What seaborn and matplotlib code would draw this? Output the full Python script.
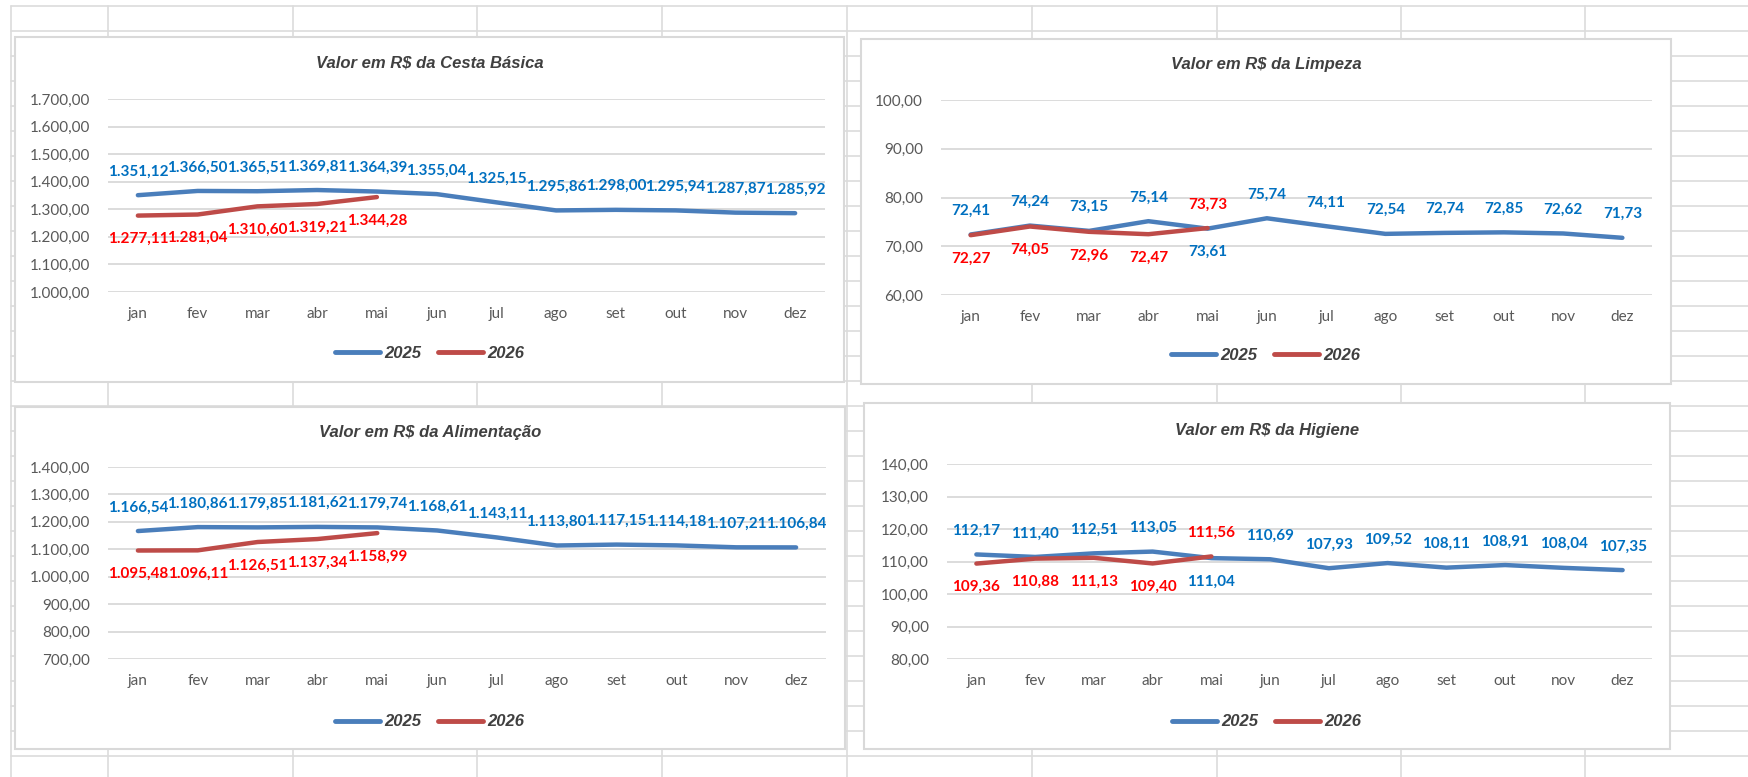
import matplotlib
matplotlib.use("Agg")
import matplotlib.pyplot as plt
from matplotlib.patches import Rectangle
import numpy as np
import pandas as pd
import seaborn as sns

# dados
meses = ["jan", "fev", "mar", "abr", "mai", "jun", "jul", "ago", "set", "out", "nov", "dez"]

cesta_2025 = [1351.12, 1366.50, 1365.51, 1369.81, 1364.39, 1355.04, 1325.15, 1295.86, 1298.00, 1295.94, 1287.87, 1285.92]
cesta_2026 = [1277.11, 1281.04, 1310.60, 1319.21, 1344.28]

limpeza_2025 = [72.41, 74.24, 73.15, 75.14, 73.61, 75.74, 74.11, 72.54, 72.74, 72.85, 72.62, 71.73]
limpeza_2026 = [72.27, 74.05, 72.96, 72.47, 73.73]

alim_2025 = [1166.54, 1180.86, 1179.85, 1181.62, 1179.74, 1168.61, 1143.11, 1113.80, 1117.15, 1114.18, 1107.21, 1106.84]
alim_2026 = [1095.48, 1096.11, 1126.51, 1137.34, 1158.99]

higiene_2025 = [112.17, 111.40, 112.51, 113.05, 111.04, 110.69, 107.93, 109.52, 108.11, 108.91, 108.04, 107.35]
higiene_2026 = [109.36, 110.88, 111.13, 109.40, 111.56]

W, H = 1749, 777
LINE_COLORS = {"2025": "#4A7EBB", "2026": "#BE4B48"}
LABEL_COLORS = {"2025": "#0070C0", "2026": "#FF0000"}
BODY_FONT = ["Lato", "DejaVu Sans"]
TITLE_FONT = ["Liberation Sans", "DejaVu Sans"]


def br(v, dec=2):
    s = f"{v:,.{dec}f}"
    return s.replace(",", "X").replace(".", ",").replace("X", ".")


def make_df(v25, v26):
    rows = [{"mes": i, "valor": v, "ano": "2025"} for i, v in enumerate(v25)]
    rows += [{"mes": i, "valor": v, "ano": "2026"} for i, v in enumerate(v26)]
    return pd.DataFrame(rows)


def frac(x0, y0, x1, y1):
    return [x0 / W, 1 - y1 / H, (x1 - x0) / W, (y1 - y0) / H]


def draw_panel(fig, title, v25, v26, yr, box, plot, title_y, legend_y):
    bx0, by0, bx1, by1 = box
    fig.patches.append(Rectangle((bx0 / W, 1 - by1 / H), (bx1 - bx0) / W, (by1 - by0) / H,
                                 transform=fig.transFigure, facecolor="white",
                                 edgecolor="#D9D9D9", linewidth=1.5, zorder=1))
    ax = fig.add_axes(frac(*plot), zorder=2)
    ax.patch.set_alpha(0)

    df = make_df(v25, v26)
    sns.lineplot(data=df, x="mes", y="valor", hue="ano", hue_order=["2025", "2026"],
                 palette=LINE_COLORS, linewidth=3.2, ax=ax,
                 solid_capstyle="round", solid_joinstyle="round")

    lo, hi, step = yr
    ax.set_ylim(lo, hi)
    ax.set_yticks(np.arange(lo, hi + step / 2, step))
    ax.set_yticklabels([br(t) for t in np.arange(lo, hi + step / 2, step)])
    ax.set_xlim(-0.5, 11.5)
    ax.set_xticks(range(12))
    ax.set_xticklabels(meses)
    ax.set_xlabel("")
    ax.set_ylabel("")
    ax.grid(axis="y", color="#D9D9D9", linewidth=1.3)
    ax.set_axisbelow(True)
    for s in ax.spines.values():
        s.set_visible(False)
    ax.tick_params(axis="both", length=0, labelcolor="#595959", labelsize=11)
    ax.tick_params(axis="y", pad=13)
    ax.tick_params(axis="x", pad=11)
    for lab in ax.get_xticklabels() + ax.get_yticklabels():
        lab.set_family(BODY_FONT)

    # rótulos de dados: acima/abaixo conforme a posição relativa das linhas
    for i, v in enumerate(v25):
        other = v26[i] if i < len(v26) else None
        up = other is None or v >= other
        ax.annotate(br(v), (i, v), xytext=(0, 17 if up else -17), textcoords="offset points",
                    ha="center", va="center", fontsize=11, fontweight="bold",
                    color=LABEL_COLORS["2025"], family=BODY_FONT, annotation_clip=False)
    for i, v in enumerate(v26):
        up = v > v25[i]
        ax.annotate(br(v), (i, v), xytext=(0, 17 if up else -17), textcoords="offset points",
                    ha="center", va="center", fontsize=11, fontweight="bold",
                    color=LABEL_COLORS["2026"], family=BODY_FONT, annotation_clip=False)

    cx = (bx0 + bx1) / 2 / W
    fig.text(cx, 1 - title_y / H, title, ha="center", va="center", fontsize=12,
             fontweight="bold", fontstyle="italic", color="#404040", family=TITLE_FONT)

    sns.move_legend(ax, loc="center", bbox_to_anchor=(cx, 1 - legend_y / H),
                    bbox_transform=fig.transFigure, ncol=2, frameon=False, title=None,
                    handlelength=2.7, handletextpad=0.25, columnspacing=1.0,
                    prop={"family": TITLE_FONT, "weight": "bold", "style": "italic", "size": 12})
    leg = ax.get_legend()
    for line in leg.get_lines():
        line.set_linewidth(3.5)
        line.set_solid_capstyle("round")
    for t in leg.get_texts():
        t.set_color("#404040")
    return ax


sns.set_theme(style="white")
plt.rcParams["font.family"] = BODY_FONT

fig = plt.figure(figsize=(W / 100, H / 100), dpi=100)
fig.patch.set_facecolor("white")

# fundo de planilha
bg = fig.add_axes([0, 0, 1, 1], zorder=0)
bg.set_xlim(0, W)
bg.set_ylim(H, 0)
bg.axis("off")
for y in range(6, H, 25):
    bg.plot([11, W], [y, y], color="#DCDCDC", linewidth=1.2)
for x in [11, 108, 293, 477, 662, 847, 1032, 1217, 1401, 1585]:
    bg.plot([x, x], [6, H], color="#DCDCDC", linewidth=1.2)

draw_panel(fig, "Valor em R$ da Cesta Básica", cesta_2025, cesta_2026, (1000, 1700, 100),
           (15, 37, 844, 382), (108, 99, 825, 292), 63, 353)
draw_panel(fig, "Valor em R$ da Limpeza", limpeza_2025, limpeza_2026, (60, 100, 10),
           (861, 39, 1671, 384), (941, 100, 1652, 295), 65, 355)
draw_panel(fig, "Valor em R$ da Alimentação", alim_2025, alim_2026, (700, 1400, 100),
           (15, 407, 845, 749), (108, 467, 826, 659), 432, 722)
draw_panel(fig, "Valor em R$ da Higiene", higiene_2025, higiene_2026, (80, 140, 10),
           (864, 403, 1670, 749), (947, 464, 1652, 659), 430, 722)

fig.savefig("out.png", dpi=100)
